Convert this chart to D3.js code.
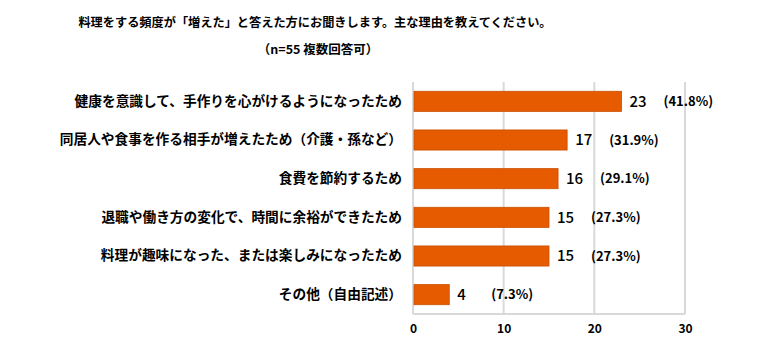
<!DOCTYPE html>
<html><head><meta charset="utf-8">
<script src="https://cdn.jsdelivr.net/npm/d3@7/dist/d3.min.js"></script>
<style>html,body{margin:0;padding:0;background:#fff;}svg{display:block;}</style>
</head><body><svg id="c" width="775" height="356"></svg>
<script>
const titleLines = ["料理をする頻度が「増えた」と答えた方にお聞きします。主な理由を教えてください。", "（n=55 複数回答可）"];
const categories = [
  "健康を意識して、手作りを心がけるようになったため",
  "同居人や食事を作る相手が増えたため（介護・孫など）",
  "食費を節約するため",
  "退職や働き方の変化で、時間に余裕ができたため",
  "料理が趣味になった、または楽しみになったため",
  "その他（自由記述）"
];
const values = [23, 17, 16, 15, 15, 4];
const percents = ["(41.8%)", "(31.9%)", "(29.1%)", "(27.3%)", "(27.3%)", "(7.3%)"];
const ticks = [0, 10, 20, 30];

const svg = d3.select("#c");
const font = "'Noto Sans CJK JP', 'Noto Sans', sans-serif";
const x = d3.scaleLinear().domain([0, 30]).range([413, 685]);
const y = d3.scaleBand().domain(categories).range([82, 314]).paddingInner(0.48).paddingOuter(0.24);

// title
svg.append("text").attr("x", 315).attr("y", 27).attr("text-anchor", "middle")
  .attr("font-family", font).attr("font-weight", "bold").attr("font-size", 12.2).attr("fill", "#000").text(titleLines[0]);
svg.append("text").attr("x", 318).attr("y", 54).attr("text-anchor", "middle")
  .attr("font-family", font).attr("font-weight", "bold").attr("font-size", 12.5).attr("fill", "#000").text(titleLines[1]);

// grid
svg.append("g").selectAll("line").data(ticks).join("line")
  .attr("x1", d => x(d)).attr("x2", d => x(d)).attr("y1", 82).attr("y2", 314)
  .attr("stroke", "#d9d9d9").attr("stroke-width", 2);
svg.append("line").attr("x1", x(0)).attr("x2", x(30)).attr("y1", 314).attr("y2", 314)
  .attr("stroke", "#d9d9d9").attr("stroke-width", 2);

// x axis labels
const xAxis = d3.axisBottom(x).tickValues(ticks).tickSize(0).tickPadding(0);
const gx = svg.append("g").attr("transform", "translate(0,324)").call(xAxis);
gx.select(".domain").remove();
gx.selectAll("text").attr("font-family", font).attr("font-weight", "bold").attr("font-size", 12).attr("fill", "#000");

// bars
svg.append("g").selectAll("rect").data(values).join("rect")
  .attr("x", x(0) + 1).attr("y", (d, i) => y(categories[i]))
  .attr("width", d => x(d) - x(0) - 1).attr("height", y.bandwidth())
  .attr("fill", "#E65A00").attr("stroke", "#C94F00").attr("stroke-width", 0.8);

// category labels
const gy = svg.append("g").attr("transform", "translate(402,0)").call(d3.axisLeft(y).tickSize(0).tickPadding(0));
gy.select(".domain").remove();
gy.selectAll("text").attr("font-family", font).attr("font-weight", "bold").attr("font-size", 13.7).attr("fill", "#000");

// value labels
svg.append("g").selectAll("text").data(values).join("text")
  .attr("x", d => x(d) + 8).attr("y", (d, i) => y(categories[i]) + y.bandwidth() / 2)
  .attr("dy", "0.36em").attr("font-family", font).attr("font-size", 15).attr("font-weight", "500").attr("fill", "#000")
  .text(d => d);
svg.append("g").selectAll("text").data(percents).join("text")
  .attr("x", (d, i) => x(values[i]) + 42).attr("y", (d, i) => y(categories[i]) + y.bandwidth() / 2)
  .attr("dy", "0.36em").attr("font-family", font).attr("font-size", 13).attr("font-weight", "bold").attr("fill", "#000")
  .text(d => d);
</script></body></html>
